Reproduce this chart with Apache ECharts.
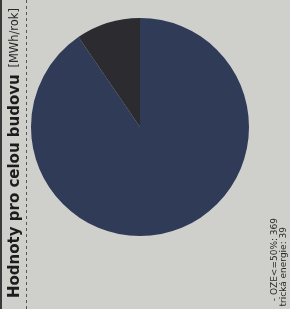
<!DOCTYPE html>
<html>
<head>
<meta charset="utf-8">
<script src="https://cdn.jsdelivr.net/npm/echarts@6/dist/echarts.min.js"></script>
<style>
  html, body { margin: 0; padding: 0; background: #cfd0cb; }
  #chart { width: 290px; height: 309px; }
</style>
</head>
<body>
<div id="chart"></div>
<script>
// hodnoty pro celou budovu [MWh/rok]
var names = ['Elektrická energie - OZE<=50%', 'Elektrická energie'];
var values = [369, 39];
var legendTexts = ['- OZE<=50%: 369', 'trická energie: 39'];

var sliceColors = ['#2f3b57', '#2b2b30'];
var font = 'DejaVu Sans';

var chart = echarts.init(document.getElementById('chart'));

chart.setOption({
  backgroundColor: '#cfd0cb',
  animation: false,
  series: [{
    type: 'pie',
    center: [140, 127],
    radius: 109,
    startAngle: 90,
    clockwise: true,
    label: {show: false},
    labelLine: {show: false},
    itemStyle: {borderWidth: 0},
    data: names.map(function (n, i) {
      return {name: n, value: values[i], itemStyle: {color: sliceColors[i]}};
    })
  }],
  graphic: [
    // levy okraj
    {type: 'line', shape: {x1: 1, y1: 0, x2: 1, y2: 309}, style: {stroke: '#3a3a3a', lineWidth: 2}},
    // carkovana cara
    {type: 'line', shape: {x1: 26.5, y1: 0, x2: 26.5, y2: 309}, style: {stroke: '#55575a', lineWidth: 1, lineDash: [3, 3]}},
    // nadpis
    {
      type: 'text', x: 15, y: 153, rotation: Math.PI / 2,
      style: {
        text: '{b|Hodnoty pro celou budovu}  {n|[MWh/rok]}',
        align: 'center', verticalAlign: 'middle',
        rich: {
          b: {fontFamily: font, fontWeight: 'bold', fontSize: 15, fill: '#1c1c1c'},
          n: {fontFamily: font, fontSize: 11.5, fill: '#2a2a2a'}
        }
      }
    },
    // legenda
    {
      type: 'text', x: 275, y: 218, rotation: Math.PI / 2,
      style: {text: legendTexts[0], align: 'right', verticalAlign: 'middle', fontFamily: font, fontSize: 9, fill: '#2a2a2a'}
    },
    {
      type: 'text', x: 284, y: 227, rotation: Math.PI / 2,
      style: {text: legendTexts[1], align: 'right', verticalAlign: 'middle', fontFamily: font, fontSize: 9, fill: '#2a2a2a'}
    }
  ]
});
</script>
</body>
</html>
